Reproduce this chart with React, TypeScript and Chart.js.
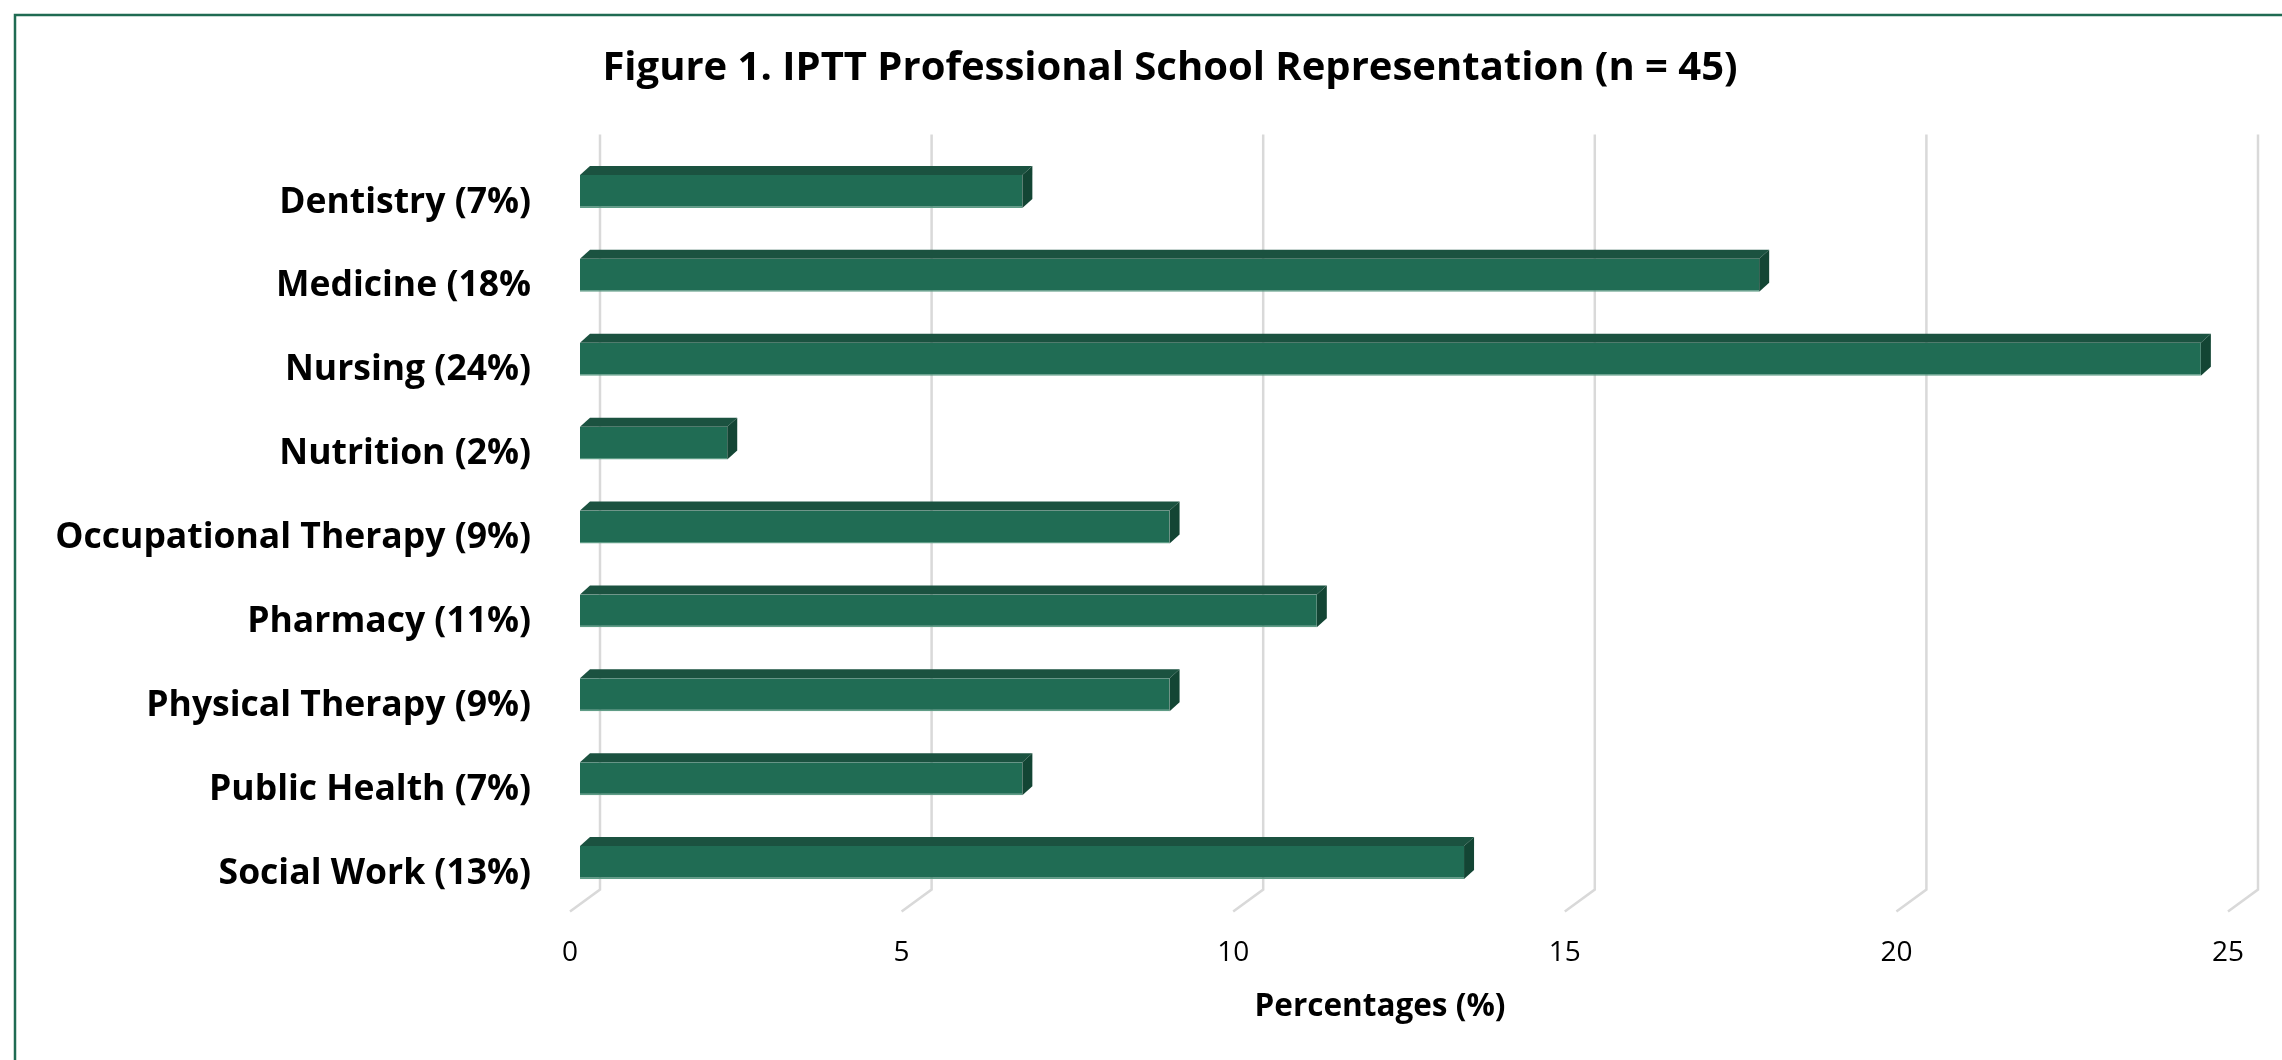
import React, { useEffect, useRef } from 'react';
import { Chart, registerables } from 'chart.js';

Chart.register(...registerables);

const categories: string[] = [
  'Dentistry (7%)',
  'Medicine (18%',
  'Nursing (24%)',
  'Nutrition (2%)',
  'Occupational Therapy (9%)',
  'Pharmacy (11%)',
  'Physical Therapy (9%)',
  'Public Health (7%)',
  'Social Work (13%)',
];

const percentages: number[] = [6.67, 17.78, 24.44, 2.22, 8.89, 11.11, 8.89, 6.67, 13.33];

const xTickValues: number[] = [0, 5, 10, 15, 20, 25];

const chartTitle = 'Figure 1. IPTT Professional School Representation (n = 45)';
const xAxisTitle = 'Percentages (%)';

const FONT = "'Open Sans', 'DejaVu Sans', sans-serif";

const FRONT_COLOR = '#206c54';
const TOP_COLOR = '#1b5240';
const SIDE_COLOR = '#134534';
const GRID_COLOR = '#d9d9d9';
const FRAME_COLOR = '#1f6b52';

const frameBackground = {
  id: 'frameBackground',
  beforeDraw(chart: any) {
    const { ctx, width, height } = chart;
    ctx.save();
    ctx.fillStyle = '#ffffff';
    ctx.fillRect(0, 0, width, height);
    ctx.strokeStyle = FRAME_COLOR;
    ctx.lineWidth = 2.5;
    ctx.strokeRect(15, 15, width - 30, height + 40);
    ctx.restore();
  },
};

const wall3d = {
  id: 'wall3d',
  beforeDatasetsDraw(chart: any) {
    const { ctx, chartArea, scales } = chart;
    const xs = scales.x;
    ctx.save();
    ctx.strokeStyle = GRID_COLOR;
    ctx.lineWidth = 2.5;
    ctx.lineJoin = 'miter';
    xs.ticks.forEach((t: any) => {
      const p = xs.getPixelForValue(t.value);
      ctx.beginPath();
      ctx.moveTo(p + 20, chartArea.top - 15);
      ctx.lineTo(p + 20, chartArea.bottom - 15);
      ctx.lineTo(p - 10, chartArea.bottom + 7);
      ctx.stroke();
    });
    ctx.restore();
  },
};

const bars3d = {
  id: 'bars3d',
  afterDatasetsDraw(chart: any) {
    const { ctx } = chart;
    const meta = chart.getDatasetMeta(0);
    const dx = 10;
    const dy = 9;
    ctx.save();
    meta.data.forEach((bar: any) => {
      const { x, y, base, height } = bar.getProps(['x', 'y', 'base', 'height'], true);
      const x0 = Math.min(base, x);
      const x1 = Math.max(base, x);
      const yT = y - height / 2;
      const yB = y + height / 2;
      ctx.fillStyle = TOP_COLOR;
      ctx.beginPath();
      ctx.moveTo(x0, yT);
      ctx.lineTo(x1, yT);
      ctx.lineTo(x1 + dx, yT - dy);
      ctx.lineTo(x0 + dx, yT - dy);
      ctx.closePath();
      ctx.fill();
      ctx.fillStyle = SIDE_COLOR;
      ctx.beginPath();
      ctx.moveTo(x1, yT);
      ctx.lineTo(x1 + dx, yT - dy);
      ctx.lineTo(x1 + dx, yB - dy);
      ctx.lineTo(x1, yB);
      ctx.closePath();
      ctx.fill();
    });
    ctx.restore();
  },
};

// Axis title drawn centred under the floor of the 3D plot (Excel places it there).
const xAxisTitlePlugin = {
  id: 'xAxisTitle3d',
  afterDraw(chart: any) {
    const { ctx, scales } = chart;
    const xs = scales.x;
    const cx = (xs.left + xs.right) / 2 - 29;
    ctx.save();
    ctx.fillStyle = '#000000';
    ctx.font = `bold 31.5px ${FONT}`;
    ctx.textAlign = 'center';
    ctx.textBaseline = 'middle';
    ctx.fillText(xAxisTitle, cx, xs.bottom - 53);
    ctx.restore();
  },
};

export default function App() {
  const canvasRef = useRef<HTMLCanvasElement | null>(null);

  useEffect(() => {
    const canvas = canvasRef.current;
    if (!canvas) return;
    const chart = new Chart(canvas, {
      type: 'bar',
      data: {
        labels: categories,
        datasets: [
          {
            label: 'Percentage',
            data: percentages,
            backgroundColor: FRONT_COLOR,
            borderColor: '#5f9c86',
            borderWidth: { top: 0, right: 0, bottom: 1.5, left: 0 },
            borderSkipped: false,
            categoryPercentage: 1,
            barPercentage: 0.393,
          },
        ],
      },
      plugins: [frameBackground, wall3d, bars3d, xAxisTitlePlugin],
      options: {
        indexAxis: 'y',
        responsive: false,
        animation: false,
        devicePixelRatio: 1,
        layout: { padding: { top: 20, left: 15, right: 15, bottom: 0 } },
        plugins: {
          legend: { display: false },
          tooltip: { enabled: false },
          title: {
            display: true,
            text: chartTitle,
            color: '#000000',
            font: { family: FONT, size: 40, weight: 'bold' },
            padding: { top: 25, bottom: 56.5 },
          },
        },
        scales: {
          x: {
            type: 'linear',
            min: 0,
            max: 25,
            afterBuildTicks: (scale: any) => {
              scale.ticks = xTickValues.map((v) => ({ value: v }));
            },
            afterFit: (scale: any) => {
              scale.height = 155.5;
            },
            grid: { display: false },
            border: { display: false },
            ticks: {
              color: '#000000',
              font: { family: FONT, size: 28 },
              padding: 24,
              labelOffset: -10,
            },
            title: { display: false, text: xAxisTitle },
          },
          y: {
            type: 'category',
            afterFit: (scale: any) => {
              scale.width = 565;
            },
            grid: { display: false },
            border: { display: false },
            ticks: {
              color: '#000000',
              font: { family: FONT, size: 35.5, weight: 'bold' },
              padding: 41,
              labelOffset: 11,
              autoSkip: false,
            },
          },
          yRight: {
            type: 'category',
            position: 'right',
            labels: categories,
            afterFit: (scale: any) => {
              scale.width = 87;
            },
            grid: { display: false },
            border: { display: false },
            ticks: { display: false },
          },
        },
      },
    } as any);
    return () => chart.destroy();
  }, []);

  return (
    <div
      style={{
        position: 'fixed',
        left: 0,
        top: 0,
        width: 2282,
        height: 1060,
        overflow: 'hidden',
        background: '#ffffff',
      }}
    >
      <canvas ref={canvasRef} width={2340} height={1060} style={{ display: 'block', width: 2340, height: 1060 }} />
    </div>
  );
}
